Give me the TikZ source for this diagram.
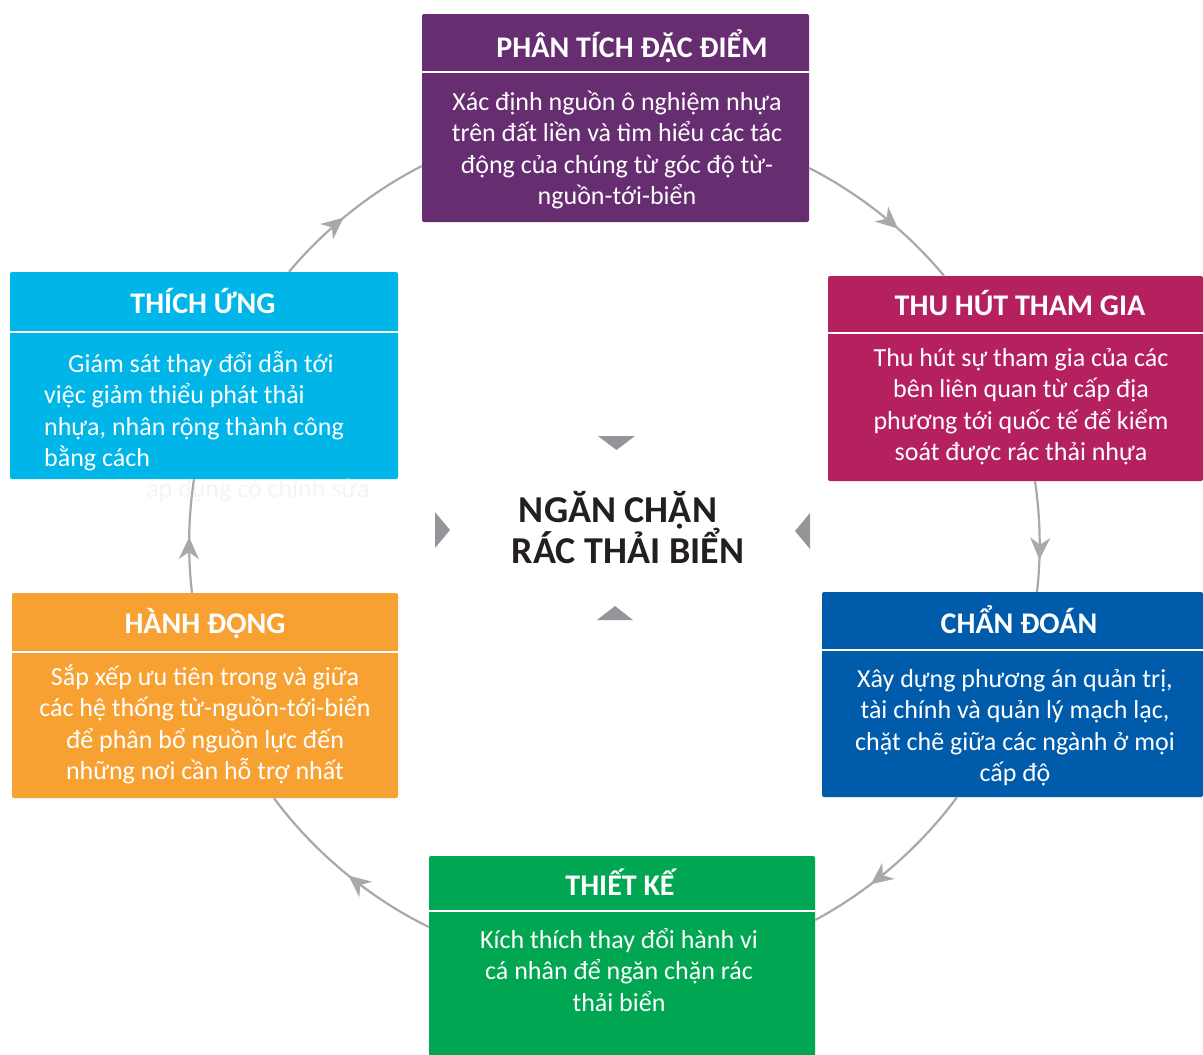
\documentclass[tikz,border=0pt]{standalone}
\usepackage{fontspec}
\setmainfont{Carlito}
\usetikzlibrary{arrows.meta,decorations.markings}
\definecolor{cPurple}{HTML}{662D70}
\definecolor{cMagenta}{HTML}{B5215E}
\definecolor{cBlue}{HTML}{005BAA}
\definecolor{cGreen}{HTML}{00A651}
\definecolor{cOrange}{HTML}{F7A133}
\definecolor{cCyan}{HTML}{00B5E8}
\definecolor{cGray}{HTML}{A7A9AC}
\definecolor{cTri}{HTML}{939598}
\definecolor{cDark}{HTML}{231F20}
\definecolor{cGhost}{HTML}{F3F4F6}
\tikzset{
  box/.style={rectangle, rounded corners=2pt, inner sep=0pt, draw=none},
  hdr/.style={text=white, font=\fontsize{30}{36}\selectfont\bfseries, inner sep=0pt, anchor=base},
  body/.style={text=white, font=\fontsize{26}{31.5}\selectfont, inner sep=0pt, align=center, anchor=north},
  sepline/.style={draw=white, line width=2pt},
  conn/.style={cGray, line width=2.2pt, looseness=0.85},
  tipat/.style={postaction={decorate}, decoration={markings, mark=at position #1 with {\arrow{Stealth[length=22pt,width=20pt,inset=7pt]}}}},
  ctr/.style={text=cDark, font=\fontsize{38}{42}\selectfont\bfseries, inner sep=0pt, anchor=base},
}
\newcommand{\fl}{\rule{0pt}{26pt}}
\begin{document}
\begin{tikzpicture}[x=1pt,y=1pt]
\useasboundingbox (0,0) rectangle (1203,-1055);

% boxes
\node[box, fill=cPurple,  minimum width=387pt, minimum height=208pt] (ptd) at (615.5,-118) {};
\node[box, fill=cMagenta, minimum width=375pt, minimum height=205pt] (thu) at (1015.5,-378.5) {};
\node[box, fill=cBlue,    minimum width=381pt, minimum height=205pt] (cdo) at (1012.5,-694.5) {};
\node[box, fill=cGreen,   minimum width=386pt, minimum height=204pt] (tke) at (622,-958) {};
\node[box, fill=cOrange,  minimum width=386pt, minimum height=205pt] (hdo) at (205,-695.5) {};
\node[box, fill=cCyan,    minimum width=388pt, minimum height=207pt] (tun) at (204,-375.5) {};

% header separators
\draw[sepline] (ptd.west |- 0,-72) -- (ptd.east |- 0,-72);
\draw[sepline] (thu.west |- 0,-333) -- (thu.east |- 0,-333);
\draw[sepline] (cdo.west |- 0,-650) -- (cdo.east |- 0,-650);
\draw[sepline] (tke.west |- 0,-911) -- (tke.east |- 0,-911);
\draw[sepline] (hdo.west |- 0,-652) -- (hdo.east |- 0,-652);
\draw[sepline] (tun.west |- 0,-332) -- (tun.east |- 0,-332);

% headers
\node[hdr] (ptdh) at (632,-57) {PHÂN TÍCH ĐẶC ĐIỂM};
\node[hdr] (thuh) at (1020,-315) {THU HÚT THAM GIA};
\node[hdr] (cdoh) at (1019,-633) {CHẨN ĐOÁN};
\node[hdr] (tkeh) at (620,-895) {THIẾT KẾ};
\node[hdr] (hdoh) at (205,-633) {HÀNH ĐỘNG};
\node[hdr] (tunh) at (203,-313) {THÍCH ỨNG};

% bodies
\node[body] (ptdb) at (617,-84) {\fl Xác định nguồn ô nghiệm nhựa\\trên đất liền và tìm hiểu các tác\\động của chúng từ góc độ từ-\\nguồn-tới-biển};
\node[body] (thub) at (1021,-340) {\fl Thu hút sự tham gia của các\\bên liên quan từ cấp địa\\phương tới quốc tế để kiểm\\soát được rác thải nhựa};
\node[body] (cdob) at (1015,-661) {\fl Xây dựng phương án quản trị,\\tài chính và quản lý mạch lạc,\\chặt chẽ giữa các ngành ở mọi\\cấp độ};
\node[body] (tkeb) at (619,-922) {\fl Kích thích thay đổi hành vi\\cá nhân để ngăn chặn rác\\thải biển};
\node[body] (hdob) at (205,-659) {\fl Sắp xếp ưu tiên trong và giữa\\các hệ thống từ-nguồn-tới-biển\\để phân bổ nguồn lực đến\\những nơi cần hỗ trợ nhất};
\node[body, align=left, anchor=north west] (tunb) at (44,-346) {\fl\hspace*{24pt}Giám sát thay đổi dẫn tới\\việc giảm thiểu phát thải\\nhựa, nhân rộng thành công\\bằng cách};
\node[text=cGhost, font=\fontsize{26}{31.5}\selectfont, inner sep=0pt, anchor=base west] (ghost) at (146,-497) {áp dụng có chỉnh sửa};

% connectors (clockwise cycle)
\draw[conn, tipat=0.62] (ptd.east |- 0,-168) to[bend left=11.6] (thu.north -| 944,0);
\draw[conn, tipat=0.71] (thu.south -| 1035,0) to[bend left=7.5] (cdo.north -| 1037,0);
\draw[conn, tipat=0.65] (cdo.south -| 957,0) to[bend left=12.7] (tke.east |- 0,-920);
\draw[conn, tipat=0.47] (tke.west |- 0,-927) to[bend left=13.7] (hdo.south -| 274,0);
\draw[conn, tipat=0.49] (hdo.north -| 192,0) to[bend left=7.7] (tun.south -| 194,0);
\draw[conn, tipat=0.45] (tun.north -| 289,0) to[bend left=11.5] (ptd.west |- 0,-166);

% center
\fill[cTri] (598,-436) -- (635,-436) -- (616.5,-450) -- cycle;
\fill[cTri] (597,-620) -- (633,-620) -- (615,-606) -- cycle;
\fill[cTri] (435,-512) -- (435,-548) -- (450,-530) -- cycle;
\fill[cTri] (810,-513) -- (810,-549) -- (795,-531) -- cycle;
\node[ctr] (c1) at (618,-522) {NGĂN CHẶN};
\node[ctr] (c2) at (628,-563) {RÁC THẢI BIỂN};
\end{tikzpicture}
\end{document}
